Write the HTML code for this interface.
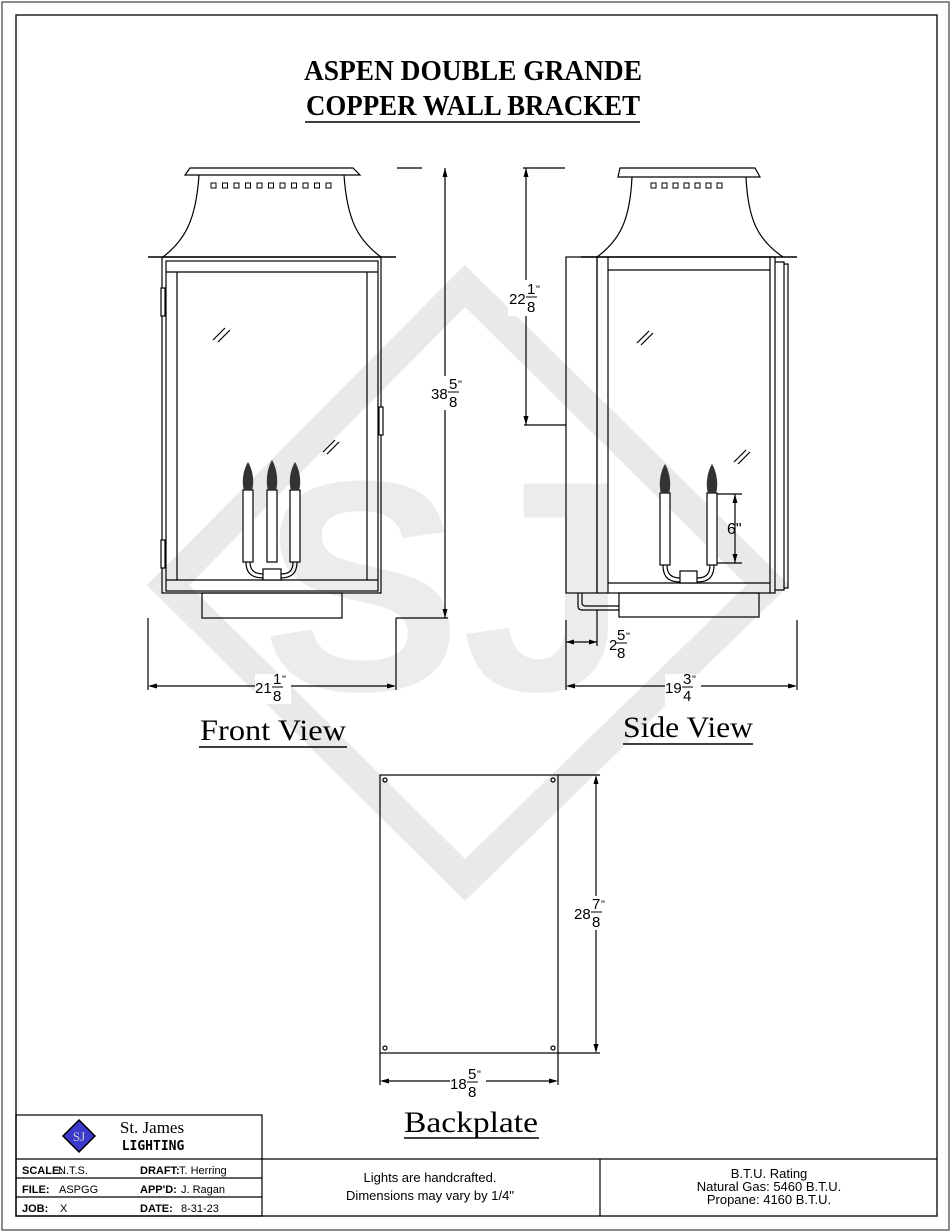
<!DOCTYPE html>
<html><head><meta charset="utf-8"><style>
html,body{margin:0;padding:0;background:#fff;}
svg{display:block;}
.s{font-family:"Liberation Serif",serif;}
.a{font-family:"Liberation Sans",sans-serif;}
.m{font-family:"DejaVu Sans Mono","Liberation Mono",monospace;font-weight:bold;}
</style></head><body>
<svg width="952" height="1232" viewBox="0 0 952 1232" xmlns="http://www.w3.org/2000/svg">
<rect x="0" y="0" width="952" height="1232" fill="#fff"/>
<rect x="2" y="2" width="947" height="1228" fill="none" stroke="#666" stroke-width="1.5"/>
<rect x="16" y="15" width="921" height="1201" fill="none" stroke="#222" stroke-width="1.5"/>

<!-- watermark -->
<g fill="none" stroke="#e9e9e9" stroke-width="30">
<polygon points="465,286 768,585 465,880 168,585"/>
</g>
<text x="445" y="690" text-anchor="middle" class="a" font-size="300" font-weight="bold" fill="#ececec">SJ</text>

<!-- Title -->
<text x="473" y="80" text-anchor="middle" class="s" font-size="29" font-weight="bold" textLength="338" lengthAdjust="spacingAndGlyphs">ASPEN DOUBLE GRANDE</text>
<text x="473" y="115" text-anchor="middle" class="s" font-size="29" font-weight="bold" textLength="334" lengthAdjust="spacingAndGlyphs">COPPER WALL BRACKET</text>
<line x1="305" y1="122" x2="640" y2="122" stroke="#000" stroke-width="1.5"/>

<g stroke="#000" stroke-width="1.2" fill="none">
<!-- FRONT VIEW -->
<polygon points="190,168 353,168 360,175 185,175"/>
<path d="M199,175 C196,220 185,240 163,257"/>
<path d="M344,175 C347,220 358,240 381,257"/>
<line x1="148" y1="257" x2="396" y2="257" stroke-width="1.6"/>
<rect x="162" y="257" width="219" height="336"/>
<rect x="166" y="261" width="212" height="330"/>
<line x1="166" y1="272" x2="378" y2="272"/>
<line x1="177" y1="272" x2="177" y2="580"/>
<line x1="367" y1="272" x2="367" y2="580"/>
<line x1="166" y1="580" x2="378" y2="580"/>
<rect x="202" y="593" width="140" height="25"/>
<rect x="161" y="288" width="4" height="28" fill="#fff"/>
<rect x="161" y="540" width="4" height="28" fill="#fff"/>
<rect x="379" y="407" width="4" height="28" fill="#fff"/>
<line x1="213" y1="340" x2="225" y2="328"/><line x1="218" y1="342" x2="230" y2="330"/>
<line x1="323" y1="452" x2="335" y2="440"/><line x1="327" y1="454" x2="339" y2="442"/>
<g stroke-width="1">
<rect x="211" y="183" width="5" height="5"/><rect x="222.5" y="183" width="5" height="5"/><rect x="234" y="183" width="5" height="5"/><rect x="245.5" y="183" width="5" height="5"/><rect x="257" y="183" width="5" height="5"/><rect x="268.5" y="183" width="5" height="5"/><rect x="280" y="183" width="5" height="5"/><rect x="291.5" y="183" width="5" height="5"/><rect x="303" y="183" width="5" height="5"/><rect x="314.5" y="183" width="5" height="5"/><rect x="326" y="183" width="5" height="5"/>
<rect x="651" y="183" width="5" height="5"/><rect x="662" y="183" width="5" height="5"/><rect x="673" y="183" width="5" height="5"/><rect x="684" y="183" width="5" height="5"/><rect x="695" y="183" width="5" height="5"/><rect x="706" y="183" width="5" height="5"/><rect x="717" y="183" width="5" height="5"/>
</g>
<!-- candles front -->
<rect x="243" y="490" width="10" height="72" fill="#fff"/>
<rect x="267" y="490" width="10" height="72" fill="#fff"/>
<rect x="290" y="490" width="10" height="72" fill="#fff"/>
<path d="M246,562 C246,576 255,578 265,578 M250,562 C250,572 256,574 265,574"/>
<path d="M297,562 C297,576 288,578 280,578 M293,562 C293,572 288,574 280,574"/>
<rect x="263" y="569" width="18" height="11" fill="#fff"/>
<!-- front dims -->
<line x1="397" y1="168" x2="422" y2="168"/>
<line x1="445" y1="168" x2="445" y2="618"/>
<line x1="396" y1="618" x2="448" y2="618"/>
<line x1="396" y1="618" x2="396" y2="690"/>
<line x1="148" y1="618" x2="148" y2="690"/>
<line x1="150" y1="686" x2="394" y2="686"/>

<!-- SIDE VIEW -->
<polygon points="620,168 755,168 760,177 618,177"/>
<path d="M632,177 C630,220 620,240 597,257"/>
<path d="M746,177 C748,220 758,240 783,257"/>
<line x1="581" y1="257" x2="797" y2="257" stroke-width="1.6"/>
<rect x="566" y="257" width="31" height="336"/>
<rect x="597" y="257" width="178" height="336"/>
<line x1="608" y1="257" x2="608" y2="593"/>
<line x1="608" y1="270" x2="770" y2="270"/>
<line x1="770" y1="257" x2="770" y2="593"/>
<line x1="608" y1="583" x2="770" y2="583"/>
<polyline points="775,262 784,262 784,590 775,590"/>
<polyline points="784,264 788,264 788,588 784,588"/>
<rect x="619" y="593" width="140" height="24"/>
<path d="M578,593 L578,606 Q578,610 582,610 L619,610 M582,593 L582,603 Q582,606 586,606 L619,606"/>
<line x1="637" y1="343" x2="649" y2="331"/><line x1="641" y1="345" x2="653" y2="333"/>
<line x1="734" y1="462" x2="746" y2="450"/><line x1="738" y1="464" x2="750" y2="452"/>
<rect x="660" y="493" width="10" height="72" fill="#fff"/>
<rect x="707" y="493" width="10" height="72" fill="#fff"/>
<path d="M663,565 C663,580 672,582 681,582 M667,565 C667,575 672,578 681,578"/>
<path d="M714,565 C714,580 705,582 697,582 M710,565 C710,575 705,578 697,578"/>
<rect x="680" y="571" width="17" height="12" fill="#fff"/>
<!-- side dims -->
<line x1="523" y1="168" x2="565" y2="168"/>
<line x1="526" y1="168" x2="526" y2="425"/>
<line x1="524" y1="425" x2="566" y2="425"/>
<line x1="717" y1="494" x2="742" y2="494"/>
<line x1="717" y1="563" x2="742" y2="563"/>
<line x1="735" y1="494" x2="735" y2="563"/>
<line x1="566" y1="620" x2="566" y2="690"/>
<line x1="597" y1="610" x2="597" y2="646"/>
<line x1="797" y1="620" x2="797" y2="690"/>
<line x1="566" y1="642" x2="597" y2="642"/>
<line x1="568" y1="686" x2="795" y2="686"/>

<!-- BACKPLATE -->
<rect x="380" y="775" width="178" height="278"/>
<circle cx="385" cy="780" r="2"/><circle cx="553" cy="780" r="2"/>
<circle cx="385" cy="1048" r="2"/><circle cx="553" cy="1048" r="2"/>
<line x1="558" y1="775" x2="600" y2="775"/>
<line x1="558" y1="1053" x2="600" y2="1053"/>
<line x1="596" y1="777" x2="596" y2="1051"/>
<line x1="380" y1="1053" x2="380" y2="1085"/>
<line x1="558" y1="1053" x2="558" y2="1085"/>
<line x1="382" y1="1081" x2="556" y2="1081"/>
</g>

<!-- flames -->
<g fill="#333">
<path d="M248,462 C242,472 242,485 244,490 L252,490 C254,485 254,472 248,462Z"/>
<path d="M272,460 C266,470 266,485 268,490 L276,490 C278,485 278,470 272,460Z"/>
<path d="M295,462 C289,472 289,485 291,490 L299,490 C301,485 301,472 295,462Z"/>
<path d="M665,464 C659,474 659,488 661,493 L669,493 C671,488 671,474 665,464Z"/>
<path d="M712,464 C706,474 706,488 708,493 L716,493 C718,488 718,474 712,464Z"/>
</g>

<!-- arrowheads -->
<g fill="#000">
<path d="M445,168 l-2.5,9 h5z"/><path d="M445,618 l-2.5,-9 h5z"/>
<path d="M148,686 l9,-2.5 v5z"/><path d="M396,686 l-9,-2.5 v5z"/>
<path d="M526,168 l-2.5,9 h5z"/><path d="M526,425 l-2.5,-9 h5z"/>
<path d="M735,494 l-2.5,9 h5z"/><path d="M735,563 l-2.5,-9 h5z"/>
<path d="M566,642 l8,-2.5 v5z"/><path d="M597,642 l-8,-2.5 v5z"/>
<path d="M566,686 l9,-2.5 v5z"/><path d="M797,686 l-9,-2.5 v5z"/>
<path d="M596,775 l-2.5,9 h5z"/><path d="M596,1053 l-2.5,-9 h5z"/>
<path d="M380,1081 l9,-2.5 v5z"/><path d="M558,1081 l-9,-2.5 v5z"/>
</g>

<!-- dim labels -->
<g class="a" font-size="15" fill="#000">
<rect x="430" y="376" width="34" height="34" fill="#fff"/>
<text x="431" y="399">38</text><text x="449" y="389" font-size="15">5</text><line x1="448" y1="392" x2="459" y2="392" stroke="#000"/><text x="449" y="407" font-size="15">8</text><text x="458" y="388" font-size="11">"</text>
<rect x="255" y="674" width="36" height="30" fill="#fff"/>
<text x="255" y="693">21</text><text x="273" y="684" font-size="15">1</text><line x1="272" y1="687" x2="283" y2="687" stroke="#000"/><text x="273" y="701" font-size="15">8</text><text x="282" y="683" font-size="11">"</text>
<rect x="508" y="280" width="36" height="36" fill="#fff"/>
<text x="509" y="304">22</text><text x="527" y="294" font-size="15">1</text><line x1="526" y1="297" x2="537" y2="297" stroke="#000"/><text x="527" y="312" font-size="15">8</text><text x="536" y="293" font-size="11">"</text>
<text x="727" y="534" font-size="16">6"</text>
<text x="609" y="650">2</text><text x="617" y="640" font-size="15">5</text><line x1="616" y1="643" x2="627" y2="643" stroke="#000"/><text x="617" y="658" font-size="15">8</text><text x="626" y="640" font-size="11">"</text>
<rect x="665" y="674" width="36" height="32" fill="#fff"/>
<text x="665" y="693">19</text><text x="683" y="684" font-size="15">3</text><line x1="682" y1="687" x2="693" y2="687" stroke="#000"/><text x="683" y="701" font-size="15">4</text><text x="692" y="683" font-size="11">"</text>
<rect x="574" y="896" width="36" height="34" fill="#fff"/>
<text x="574" y="919">28</text><text x="592" y="909" font-size="15">7</text><line x1="591" y1="912" x2="602" y2="912" stroke="#000"/><text x="592" y="927" font-size="15">8</text><text x="601" y="908" font-size="11">"</text>
<rect x="450" y="1068" width="36" height="32" fill="#fff"/>
<text x="450" y="1089">18</text><text x="468" y="1079" font-size="15">5</text><line x1="467" y1="1082" x2="478" y2="1082" stroke="#000"/><text x="468" y="1097" font-size="15">8</text><text x="477" y="1078" font-size="11">"</text>
</g>

<!-- view labels -->
<text x="273" y="740" text-anchor="middle" class="s" font-size="30" textLength="146" lengthAdjust="spacingAndGlyphs">Front View</text>
<line x1="199" y1="747" x2="347" y2="747" stroke="#000" stroke-width="1.5"/>
<text x="688" y="737" text-anchor="middle" class="s" font-size="30" textLength="130" lengthAdjust="spacingAndGlyphs">Side View</text>
<line x1="623" y1="744" x2="753" y2="744" stroke="#000" stroke-width="1.5"/>
<text x="471" y="1132" text-anchor="middle" class="s" font-size="30" textLength="134" lengthAdjust="spacingAndGlyphs">Backplate</text>
<line x1="404" y1="1138" x2="539" y2="1138" stroke="#000" stroke-width="1.5"/>

<!-- title block -->
<g stroke="#000" stroke-width="1.2" fill="none">
<rect x="16" y="1115" width="246" height="101"/>
<line x1="16" y1="1159" x2="937" y2="1159"/>
<line x1="16" y1="1178" x2="262" y2="1178"/>
<line x1="16" y1="1197" x2="262" y2="1197"/>
<line x1="600" y1="1159" x2="600" y2="1216"/>
</g>
<polygon points="79,1120 95,1136 79,1152 63,1136" fill="#3a3acc" stroke="#000" stroke-width="1.5"/>
<text x="79" y="1141" text-anchor="middle" class="s" font-size="13" fill="#ccc">SJ</text>
<text x="152" y="1133" text-anchor="middle" class="s" font-size="17">St. James</text>
<text x="153" y="1150" text-anchor="middle" class="m" font-size="13">LIGHTING</text>
<g font-size="11" class="a">
<text x="22" y="1174" font-weight="bold">SCALE:</text><text x="58" y="1174">N.T.S.</text>
<text x="140" y="1174" font-weight="bold">DRAFT:</text><text x="179" y="1174">T. Herring</text>
<text x="22" y="1193" font-weight="bold">FILE:</text><text x="59" y="1193">ASPGG</text>
<text x="140" y="1193" font-weight="bold">APP'D:</text><text x="181" y="1193">J. Ragan</text>
<text x="22" y="1212" font-weight="bold">JOB:</text><text x="60" y="1212">X</text>
<text x="140" y="1212" font-weight="bold">DATE:</text><text x="181" y="1212">8-31-23</text>
</g>
<g class="a" font-size="13" text-anchor="middle">
<text x="430" y="1182">Lights are handcrafted.</text>
<text x="430" y="1200">Dimensions may vary by 1/4"</text>
<text x="769" y="1178">B.T.U. Rating</text>
<text x="769" y="1191">Natural Gas: 5460 B.T.U.</text>
<text x="769" y="1204">Propane: 4160 B.T.U.</text>
</g>
</svg>
</body></html>
